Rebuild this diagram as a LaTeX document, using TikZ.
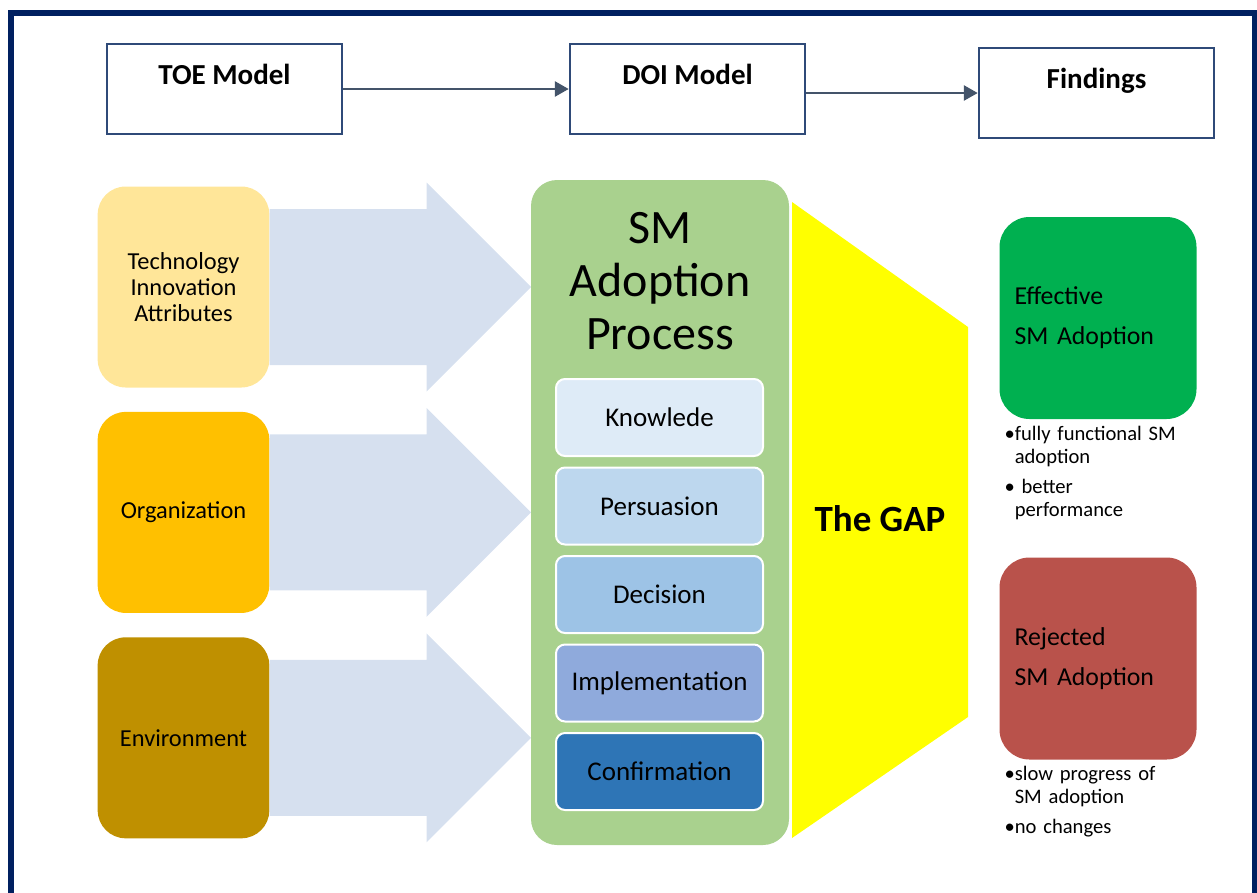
\documentclass[tikz,border=0pt]{standalone}
\usepackage{fontspec}
\setmainfont{Carlito}
\usetikzlibrary{positioning}
\usetikzlibrary{arrows.meta}
\definecolor{framenavy}{HTML}{002060}
\definecolor{boxblue}{HTML}{2F4A78}
\definecolor{linkgray}{HTML}{44546A}
\definecolor{techyellow}{HTML}{FFE699}
\definecolor{orgorange}{HTML}{FFC000}
\definecolor{envgold}{HTML}{BF9000}
\definecolor{arrowblue}{HTML}{D6E0EF}
\definecolor{processgreen}{HTML}{A9D18E}
\definecolor{stepA}{HTML}{DEEBF7}
\definecolor{stepB}{HTML}{BDD7EE}
\definecolor{stepC}{HTML}{9DC3E6}
\definecolor{stepD}{HTML}{8FAADC}
\definecolor{stepE}{HTML}{2E75B6}
\definecolor{gapyellow}{HTML}{FFFF00}
\definecolor{effgreen}{HTML}{00B050}
\definecolor{rejred}{HTML}{B9524B}
\tikzset{
	>={Triangle[length=14pt,width=15pt]},
	frame/.style={draw=framenavy, line width=6pt},
	topbox/.style={
		rectangle,
		draw=boxblue, line width=2.5pt,
		minimum width=235pt,
		minimum height=90pt,
		text height=20pt, text depth=30pt,
		font=\fontsize{29}{33}\selectfont\bfseries},
	link/.style={draw=linkgray, line width=2.8pt, ->},
	toebox/.style={
		rectangle,
		rounded corners=28pt,
		minimum width=171pt,
		minimum height=201pt,
		text width=165pt,
		align=center,
		font=\fontsize{24.4}{26}\selectfont},
	fatarrow/.style={fill=arrowblue},
	processbox/.style={
		rectangle,
		rounded corners=26pt,
		fill=processgreen,
		minimum width=258pt,
		minimum height=665pt},
	stepbox/.style={
		rectangle,
		rounded corners=9pt,
		draw=white, line width=2pt,
		minimum width=207pt,
		minimum height=77pt,
		font=\fontsize{27}{30}\selectfont},
	resultbox/.style={
		rectangle,
		rounded corners=30pt,
		minimum width=197pt,
		minimum height=202pt,
		text width=167pt,
		align=left,
		font=\fontsize{25.8}{40}\selectfont},
	notes/.style={
		inner sep=0pt,
		text width=190pt,
		align=left,
		font=\fontsize{20.6}{23}\selectfont},
}
\begin{document}
\begin{tikzpicture}[x=1pt, y=-1pt, node distance=24pt]
	\useasboundingbox (0,0) rectangle (1257,892);
	\clip (0,0) rectangle (1257,892);
	\draw[frame] (11,13) rectangle (1255,930);
	
	% models
	\node[topbox] (toe) at (224.5,89) {TOE Model};
	\node[topbox] (doi) at (687.5,89) {DOI Model};
	\node[topbox] (findings) at (1096.5,93) {Findings};
	\draw[link] (toe) -- (doi);
	\draw[link] (doi.east |- findings.west) -- (findings.west);
	
	% TOE factors
	\node[toebox, fill=techyellow] (tech) at (183.5,287) {Technology\\Innovation\\Attributes};
	\node[toebox, fill=orgorange, below=of tech] (org) {Organization};
	\node[toebox, fill=envgold, below=of org] (env) {Environment};
	\fill[fatarrow] (tech.east) ++(0,-78) -- ++(157,0) -- ++(0,-26.5) -- ++(104.5,104.5) -- ++(-104.5,104.5) -- ++(0,-26.5) -- ++(-157,0) -- cycle;
	\fill[fatarrow] (org.east) ++(0,-78) -- ++(157,0) -- ++(0,-26.5) -- ++(104.5,104.5) -- ++(-104.5,104.5) -- ++(0,-26.5) -- ++(-157,0) -- cycle;
	\fill[fatarrow] (env.east) ++(0,-78) -- ++(157,0) -- ++(0,-26.5) -- ++(104.5,104.5) -- ++(-104.5,104.5) -- ++(0,-26.5) -- ++(-157,0) -- cycle;
	
	% DOI process
	\node[processbox] (sm) at (660,512.5) {};
	\node[align=center, font=\fontsize{48}{53}\selectfont] (smtitle) at (660,281) {SM\\Adoption\\Process};
	\node[stepbox, fill=stepA] (knowledge) at (659.5,417.5) {Knowlede};
	\node[stepbox, fill=stepB, below=9.5pt of knowledge] (persuasion) {Persuasion};
	\node[stepbox, fill=stepC, below=9.5pt of persuasion] (decision) {Decision};
	\node[stepbox, fill=stepD, below=9.5pt of decision] (implementation) {Implementation};
	\node[stepbox, fill=stepE, below=9.5pt of implementation] (confirmation) {Confirmation};
	
	% the gap
	\fill[gapyellow] (792,202) -- (968,327) -- (968,717) -- (792,838) -- cycle;
	\node[font=\fontsize{37}{40}\selectfont\bfseries] (gap) at (880,519) {The GAP};
	
	% findings
	\node[resultbox, fill=effgreen] (effective) at (1098,318) {Effective\\SM Adoption};
	\node[resultbox, fill=rejred] (rejected) at (1098,658.5) {Rejected\\SM Adoption};
	\node[notes, below right=7pt and 5pt of effective.south west] (effnotes)
		{•fully functional SM\\\phantom{•}adoption\\[7pt]• better\\\phantom{•}performance};
	\node[notes, below right=6pt and 5pt of rejected.south west] (rejnotes)
		{•slow progress of\\\phantom{•}SM adoption\\[7pt]•no changes};
\end{tikzpicture}
\end{document}
